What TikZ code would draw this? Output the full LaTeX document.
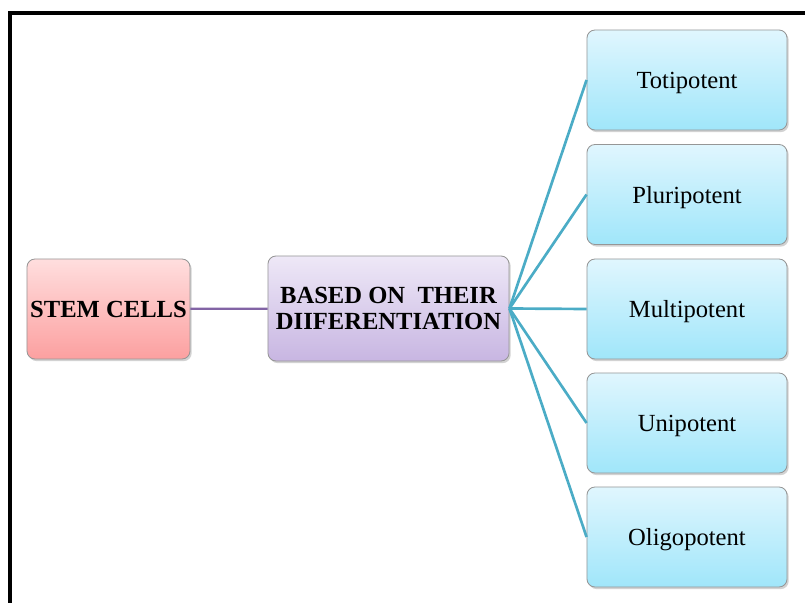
\documentclass[tikz,border=0pt]{standalone}
\usepackage{fontspec}
\setmainfont{Liberation Serif}
\usepackage{xcolor}
\definecolor{rosaA}{RGB}{255,222,222}
\definecolor{rosaB}{RGB}{252,160,160}
\definecolor{lilaA}{RGB}{238,232,247}
\definecolor{lilaB}{RGB}{200,182,226}
\definecolor{celesteA}{RGB}{224,246,254}
\definecolor{celesteB}{RGB}{160,230,250}
\definecolor{bordeC}{RGB}{150,150,150}
\definecolor{lineaL}{RGB}{130,100,165}
\definecolor{lineaT}{RGB}{75,172,198}
\usetikzlibrary{shadows}

\begin{document}
\begin{tikzpicture}[x=0.025cm, y=-0.025cm,
  caja/.style={rectangle, rounded corners=0.2cm, draw=bordeC, line width=0.6pt, align=center, inner sep=2pt,
    font=\fontsize{17.5}{18.5}\selectfont, drop shadow={shadow xshift=1.2pt, shadow yshift=-1.5pt, fill=black!35}},
  raiz/.style={caja, top color=rosaA, bottom color=rosaB, minimum width=4.075cm, minimum height=2.5cm, font=\fontsize{17.5}{18.5}\selectfont\bfseries},
  base/.style={caja, top color=lilaA, bottom color=lilaB, minimum width=6.025cm, minimum height=2.625cm, font=\fontsize{17.5}{18.5}\selectfont\bfseries},
  tipo/.style={caja, top color=celesteA, bottom color=celesteB, minimum width=5cm, minimum height=2.5cm, text depth=0pt}
]
  \useasboundingbox (0,0) rectangle (805,603);
  \draw[line width=2.2pt] (805,13) -- (10,13) -- (10,603);

  \node[raiz] (stem) at (108.5,309) {STEM CELLS};
  \node[base] (diff) at (388.5,308.5) {BASED ON~~THEIR\\DIIFERENTIATION};

  \node[tipo] (toti) at (687,80) {Totipotent};
  \node[tipo] (pluri) at (687,194.5) {Pluripotent};
  \node[tipo] (multi) at (687,309) {Multipotent};
  \node[tipo] (uni) at (687,423) {Unipotent};
  \node[tipo] (oligo) at (687,537) {Oligopotent};

  \draw[lineaL, line width=1.6pt] (stem) -- (diff);
  \foreach \t in {toti, pluri, multi, uni, oligo}
    \draw[lineaT, line width=1.9pt] (diff.east) -- (\t.west);
\end{tikzpicture}
\end{document}
